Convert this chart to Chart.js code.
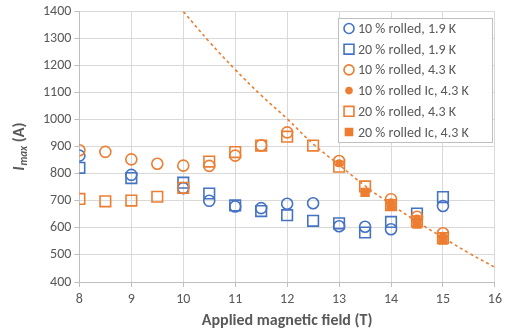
<!DOCTYPE html>
<html>
<head>
<meta charset="utf-8">
<script src="https://cdn.jsdelivr.net/npm/chart.js@4.4.0/dist/chart.umd.min.js"></script>
<style>
  html, body { margin: 0; padding: 0; background: #fff; }
  #wrap { width: 506px; height: 333px; }
</style>
</head>
<body>
<div id="wrap"><canvas id="myChart"></canvas></div>
<script>
// values (field in T, Imax in A)
const b10_19 = [8, 9, 10, 10.5, 11, 11.5, 12, 12.5, 13, 13.5, 14, 15];
const i10_19 = [867, 796, 747, 700, 679, 673, 689, 691, 606, 604, 595, 681];

const b20_19 = [8, 9, 10, 10.5, 11, 11.5, 12, 12.5, 13, 13.5, 14, 14.5, 15];
const i20_19 = [822, 784, 767, 727, 683, 662, 647, 626, 617, 583, 622, 653, 714];

const b10_43 = [8, 8.5, 9, 9.5, 10, 10.5, 11, 11.5, 12, 13, 14, 14.5, 15];
const i10_43 = [887, 881, 853, 837, 830, 829, 867, 905, 953, 847, 706, 641, 580];

const b10ic_43 = [13, 14, 14.5, 15];
const i10ic_43 = [840, 695, 635, 572];

const b20_43 = [8, 8.5, 9, 9.5, 10, 10.5, 11, 11.5, 12, 12.5, 13, 13.5, 14, 14.5, 15];
const i20_43 = [707, 698, 701, 715, 748, 845, 880, 904, 937, 904, 826, 753, 684, 624, 562];

const b20ic_43 = [13.5, 14, 14.5, 15];
const i20ic_43 = [731, 680, 614, 555];

// dotted trend line
const bFit = [10, 10.5, 11, 11.5, 12, 12.5, 13, 13.5, 14, 14.5, 15, 15.5, 16];
const iFit = [1400, 1288, 1185, 1090, 1003, 910, 833, 755, 687, 623, 564, 507, 454];

const xTicks = [8, 9, 10, 11, 12, 13, 14, 15, 16];
const yTicks = [400, 500, 600, 700, 800, 900, 1000, 1100, 1200, 1300, 1400];

const blue = '#4472C4';
const orange = '#ED7D31';
const grey = '#595959';
const fam = 'Calibri, Carlito, Lato, "Liberation Sans", sans-serif';

function pts(xs, ys) {
    return xs.map((x, i) => ({ x: x, y: ys[i] }));
}

const series = [
    { label: '10 % rolled, 1.9 K', data: pts(b10_19, i10_19), style: 'circle', r: 5.5, color: blue, fill: false },
    { label: '20 % rolled, 1.9 K', data: pts(b20_19, i20_19), style: 'rect', r: 7.5, color: blue, fill: false },
    { label: '10 % rolled, 4.3 K', data: pts(b10_43, i10_43), style: 'circle', r: 5.5, color: orange, fill: false },
    { label: '10 % rolled Ic, 4.3 K', data: pts(b10ic_43, i10ic_43), style: 'circle', r: 3, color: orange, fill: true },
    { label: '20 % rolled, 4.3 K', data: pts(b20_43, i20_43), style: 'rect', r: 7.5, color: orange, fill: false },
    { label: '20 % rolled Ic, 4.3 K', data: pts(b20ic_43, i20ic_43), style: 'rect', r: 5.5, color: orange, fill: true }
];

const datasets = series.map((s, i) => ({
    label: s.label,
    data: s.data,
    showLine: false,
    pointStyle: s.style,
    pointRadius: s.r,
    pointHoverRadius: s.r,
    borderWidth: 1.6,
    pointBorderColor: s.color,
    pointBackgroundColor: s.fill ? s.color : 'rgba(0,0,0,0)',
    borderColor: s.color,
    backgroundColor: s.fill ? s.color : 'rgba(0,0,0,0)',
    order: 10 - i
}));

datasets.push({
    label: 'fit',
    data: pts(bFit, iFit),
    showLine: true,
    pointRadius: 0,
    borderColor: orange,
    borderWidth: 1.6,
    borderDash: [3, 3],
    tension: 0.4,
    fill: false,
    order: 0
});

// y axis title with subscript, and the legend box inside the plot
const extras = {
    id: 'extras',
    afterDraw(chart) {
        const ctx = chart.ctx;
        const area = chart.chartArea;
        ctx.save();
        // y title
        ctx.translate(20, (area.top + area.bottom) / 2);
        ctx.rotate(-Math.PI / 2);
        ctx.fillStyle = grey;
        ctx.textBaseline = 'middle';
        const f1 = 'italic bold 16px ' + fam;
        const f2 = 'italic bold 11px ' + fam;
        const f3 = 'bold 16px ' + fam;
        ctx.font = f1; const w1 = ctx.measureText('I').width + 1;
        ctx.font = f2; const w2 = ctx.measureText('max').width;
        ctx.font = f3; const w3 = ctx.measureText(' (A)').width;
        let x0 = -(w1 + w2 + w3) / 2;
        ctx.textAlign = 'left';
        ctx.font = f1; ctx.fillText('I', x0, 0); x0 += w1;
        ctx.font = f2; ctx.fillText('max', x0, 4); x0 += w2;
        ctx.font = f3; ctx.fillText(' (A)', x0, 0);
        ctx.restore();

        // legend
        ctx.save();
        const lx = 338, ly = 18, lw = 154, lh = 124;
        ctx.fillStyle = '#ffffff';
        ctx.fillRect(lx, ly, lw, lh);
        ctx.strokeStyle = '#bfbfbf';
        ctx.lineWidth = 1;
        ctx.strokeRect(lx + 0.5, ly + 0.5, lw, lh);
        ctx.font = '14px ' + fam;
        ctx.textBaseline = 'middle';
        ctx.textAlign = 'left';
        series.forEach((s, i) => {
            const cy = 28.5 + i * 20.7;
            ctx.lineWidth = 1.6;
            ctx.strokeStyle = s.color;
            ctx.fillStyle = s.fill ? s.color : 'rgba(0,0,0,0)';
            Chart.helpers.drawPoint(ctx, {
                pointStyle: s.style,
                radius: s.fill ? (s.style === 'rect' ? 5 : 3) : (s.style === 'rect' ? 7 : 5),
                rotation: 0,
                borderWidth: 1.6
            }, 349, cy);
            ctx.fillStyle = grey;
            ctx.fillText(s.label, 358, cy + 1);
        });
        ctx.restore();
    }
};

const ctx = document.getElementById('myChart').getContext('2d');
new Chart(ctx, {
    type: 'scatter',
    data: { datasets: datasets },
    options: {
        responsive: true,
        maintainAspectRatio: false,
        animation: false,
        layout: { padding: { left: 40, right: 7, top: 6, bottom: 2 } },
        plugins: {
            legend: { display: false },
            tooltip: { enabled: false }
        },
        scales: {
            x: {
                type: 'linear',
                min: 8,
                max: 16,
                afterBuildTicks: axis => { axis.ticks = xTicks.map(v => ({ value: v })); },
                grid: { color: '#d9d9d9', tickLength: 5, tickColor: '#bfbfbf' },
                border: { color: '#bfbfbf' },
                ticks: {
                    color: grey,
                    font: { size: 14, family: fam },
                    padding: 4,
                    callback: v => String(v)
                },
                title: {
                    display: true,
                    text: 'Applied magnetic field (T)',
                    color: grey,
                    font: { size: 16, weight: 'bold', family: fam },
                    padding: { top: 0, bottom: 0 }
                }
            },
            y: {
                min: 400,
                max: 1400,
                afterBuildTicks: axis => { axis.ticks = yTicks.map(v => ({ value: v })); },
                grid: { color: '#d9d9d9', tickLength: 5, tickColor: '#bfbfbf' },
                border: { color: '#bfbfbf' },
                ticks: {
                    color: grey,
                    font: { size: 14, family: fam },
                    padding: 3,
                    callback: v => String(v)
                }
            }
        }
    },
    plugins: [extras]
});
</script>
</body>
</html>
